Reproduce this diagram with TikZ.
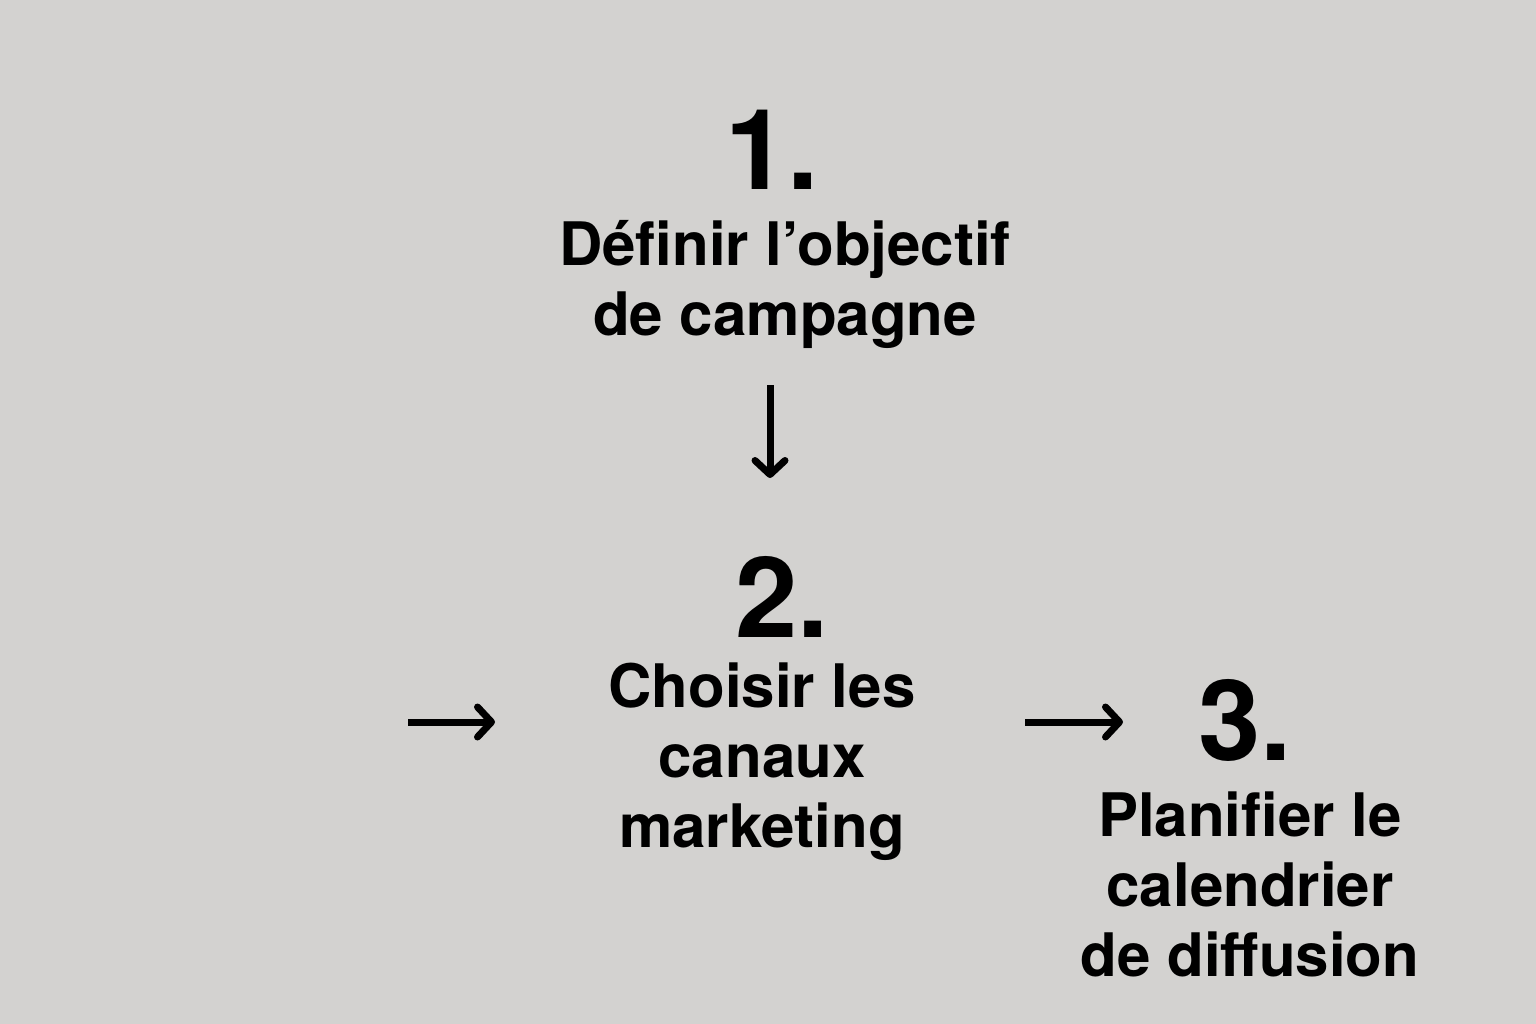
\documentclass[tikz,border=0pt]{standalone}
\usepackage{fontspec}
\setmainfont{TeX Gyre Heros}
\usetikzlibrary{arrows.meta}
\begin{document}
\begin{tikzpicture}[x=1pt,y=-1pt,
  num/.style={font=\bfseries\fontsize{112}{112}\selectfont,inner sep=0pt},
  lbl/.style={font=\bfseries\fontsize{60}{70}\selectfont,align=center,inner sep=0pt},
  arr/.style={line width=7pt,-{Straight Barb[length=14pt,width=30pt,line cap=round,line join=round]}}]
\fill[white!98!yellow!60!gray] (0,0) rectangle (1536,1024);
\useasboundingbox (0,0) rectangle (1536,1024);
\node[num] (n1) at (772,150) {1.};
\node[lbl] (t1) at (785,284) {Définir l’objectif\\de campagne};
\coordinate (a1s) at (770,385);
\coordinate (a1e) at (770,478);
\draw[arr] (a1s) -- (a1e);
\node[num] (n2) at (782,597) {2.};
\node[lbl] (t2) at (762,762) {Choisir les\\canaux\\marketing};
\coordinate (a2s) at (408,722);
\coordinate (a2e) at (495,722);
\draw[arr] (a2s) -- (a2e);
\coordinate (a3s) at (1025,722);
\coordinate (a3e) at (1123,722);
\draw[arr] (a3s) -- (a3e);
\node[num] (n3) at (1245,720) {3.};
\node[lbl] (t3) at (1250,884) {Planifier le\\calendrier\\de diffusion};
\end{tikzpicture}
\end{document}
